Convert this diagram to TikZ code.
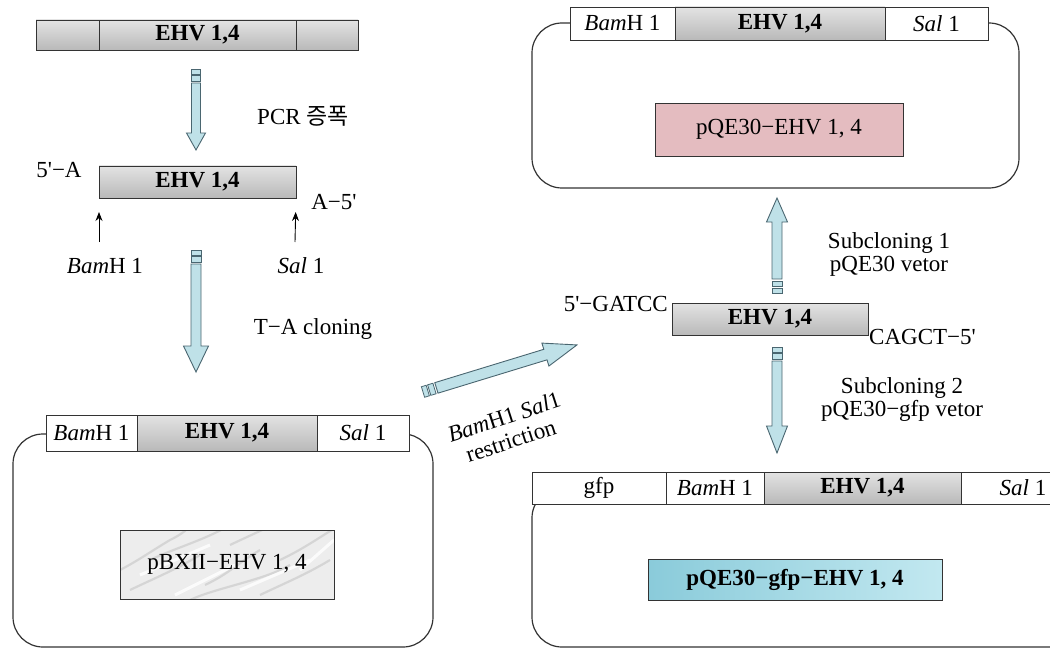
\documentclass[tikz,border=0pt]{standalone}
\usepackage{fontspec}
\setmainfont{Liberation Serif}
\newfontfamily\kr{Noto Sans CJK KR}
\usetikzlibrary{arrows.meta,calc}
\definecolor{arrowfill}{HTML}{BFE1E8}
\definecolor{arrowline}{HTML}{4A6670}
\definecolor{pinkfill}{HTML}{E4BCC0}
\definecolor{cyanA}{HTML}{8ACBDA}
\definecolor{cyanB}{HTML}{C2E8F0}
\definecolor{boxline}{HTML}{333333}
\newcommand\tsz{\fontsize{23}{23}\selectfont}
\newcommand\q{\textquotesingle}
\newcommand\cellnode[7]{\node[#6, minimum width={#4pt-#2pt}, minimum height={#5pt-#3pt}] (#1) at ({(#2+#4)/2},{(#3+#5)/2}) {#7};}
\newcommand\blkarr[7]{%
\begin{scope}[shift={(#1,#2)},rotate=#3]
\draw[arrowsq] (0,-#5) rectangle (5,#5);
\draw[arrowsq] (6.5,-#5) rectangle (12,#5);
\draw[arrowbody] (14,-#5) -- ({#4-#6},-#5) -- ({#4-#6},-#7) -- (#4,0) -- ({#4-#6},#7) -- ({#4-#6},#5) -- (14,#5) -- cycle;
\end{scope}}
\begin{document}
\begin{tikzpicture}[x=1pt,y=-1pt,
  cell/.style={draw=boxline, line width=0.9pt, fill=white, inner sep=0pt, outer sep=0pt, font=\tsz},
  gcell/.style={cell, top color=gray!22, middle color=white, bottom color=gray!55},
  ehv/.style={gcell, font=\tsz\bfseries},
  plasbox/.style={draw=boxline, line width=1.2pt, rounded corners=30pt},
  arrowsq/.style={draw=arrowline, fill=arrowfill, line width=0.8pt},
  arrowbody/.style={draw=arrowline, fill=arrowfill, line width=0.9pt, line join=miter},
  lbl/.style={font=\tsz, inner sep=0pt, align=center},
  smallarrow/.style={draw=black, line width=0.9pt, -{Stealth[length=9pt,width=7pt]}, shorten >=14pt}
]
\useasboundingbox (0,0) rectangle (1050,650);
\clip (0,0) rectangle (1050,650);

% ---------- top left: EHV gene ----------
\cellnode{tlL}{36}{20}{99}{50}{gcell}{}
\cellnode{tlM}{99}{20}{296}{50}{ehv}{EHV 1,4}
\cellnode{tlR}{296}{20}{358}{50}{gcell}{}
\blkarr{196}{69}{-90}{81}{4.5}{17}{9.5}
\node[lbl] (pcr) at (303,116) {PCR {\kr 증폭}};

% ---------- PCR product ----------
\cellnode{bar2}{99}{166}{296}{198}{ehv}{EHV 1,4}
\node[lbl] (fiveA) at (59,170) {5\q−A};
\node[lbl] (Afive) at (334,202) {A−5\q};
\coordinate (bamtail) at (99,242);
\coordinate (saltail) at (295,242);
\draw[smallarrow] (bamtail) -- (bar2.south west);
\draw[smallarrow] (saltail) -- (bar2.south east);
\node[lbl] (bamlbl) at (105,266) {\textit{Bam}H 1};
\node[lbl] (sallbl) at (301,266) {\textit{Sal} 1};
\blkarr{196}{250}{-90}{122}{5}{26}{12.5}
\node[lbl] (tacl) at (313,329) {T−A cloning};

% ---------- bottom left plasmid pBXII ----------
\draw[plasbox] (13,434) rectangle (433,647);
\cellnode{blA}{46}{415}{137}{451}{cell}{\textit{Bam}H 1}
\cellnode{blB}{137}{415}{317}{451}{ehv}{EHV 1,4}
\cellnode{blC}{317}{415}{409}{451}{cell}{\textit{Sal} 1}
\begin{scope}
\clip (120,530) rectangle (334,599);
\fill[gray!14] (120,530) rectangle (334,599);
\foreach \a/\b/\c in {130/590/200,150/560/230,190/600/290,230/545/300,260/595/330,110/575/170,280/560/340,170/540/215,205/585/260}
  \draw[gray!40, line width=2.2pt, opacity=0.7] (\a,\b) .. controls ({\a+25},{\b-12}) and ({\c-25},{\b-20}) .. (\c,{\b-35});
\foreach \a/\b/\c in {140/575/210,240/590/310,175/595/235,300/570/334}
  \draw[white, line width=3pt, opacity=0.8] (\a,\b) -- (\c,{\b-30});
\end{scope}
\cellnode{pbx}{120}{530}{334}{599}{cell, fill=none}{pBXII−EHV 1, 4}

% ---------- restriction arrow ----------
\blkarr{423}{392}{17}{161}{5.5}{33}{12}
\node[lbl, rotate=18] (restrA) at (504,417) {\textit{Bam}H1 \textit{Sal}1};
\node[lbl, rotate=18] (restrB) at (511,441) {restriction};

% ---------- middle fragment ----------
\cellnode{mid}{672}{303}{868}{335}{ehv}{EHV 1,4}
\node[lbl, anchor=east] (gatcc) at (668,304) {5\q−GATCC};
\node[lbl, anchor=west] (cagct) at (869,337) {CAGCT−5\q};
\blkarr{777}{293}{90}{95}{5}{24}{10.5}
\blkarr{777}{347}{-90}{106}{5}{27}{10.5}
\node[lbl] (sub1) at (889,254) {Subcloning 1\\pQE30 vetor};
\node[lbl] (sub2) at (902,399) {Subcloning 2\\pQE30−gfp vetor};

% ---------- top right plasmid pQE30 ----------
\draw[plasbox] (532,23) rectangle (1019,188);
\cellnode{trA}{570}{7}{675}{40}{cell}{\textit{Bam}H 1}
\cellnode{trB}{675}{7}{885}{40}{ehv}{EHV 1,4}
\cellnode{trC}{885}{7}{988}{40}{cell}{\textit{Sal} 1}
\cellnode{pqe}{655}{103}{903}{156}{cell, fill=pinkfill}{pQE30−EHV 1, 4}

% ---------- bottom right plasmid pQE30-gfp ----------
\draw[plasbox] (532,488) rectangle (1085,647);
\cellnode{brA}{532}{472}{666}{504}{cell}{gfp}
\cellnode{brB}{666}{472}{764}{504}{cell}{\textit{Bam}H 1}
\cellnode{brC}{764}{472}{961}{504}{ehv}{EHV 1,4}
\cellnode{brD}{961}{472}{1085}{504}{cell}{\textit{Sal} 1}
\cellnode{pgfp}{648}{559}{942}{600}{cell, left color=cyanA, right color=cyanB, font=\tsz\bfseries}{pQE30−gfp−EHV 1, 4}
\end{tikzpicture}
\end{document}
